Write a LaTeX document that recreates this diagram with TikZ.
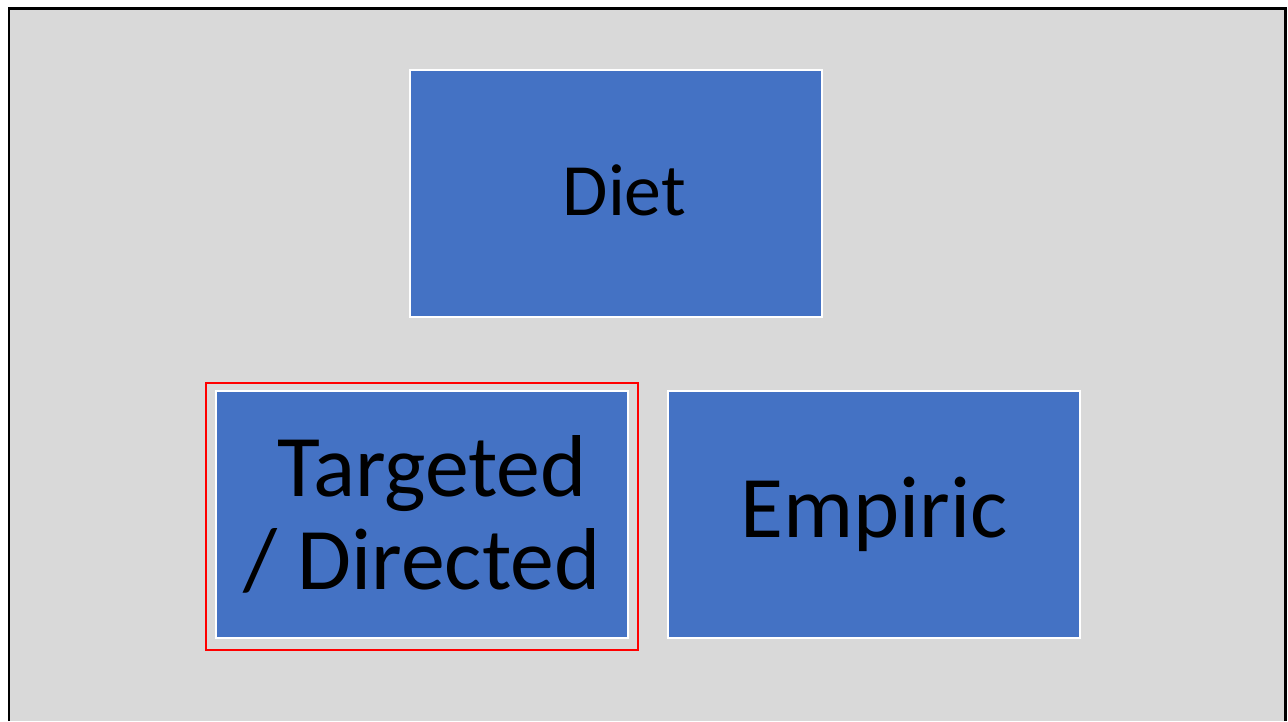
\documentclass[tikz,border=0pt]{standalone}
\usepackage{fontspec}
\setmainfont{Carlito}
\usetikzlibrary{positioning}
\definecolor{slidegray}{HTML}{D9D9D9}
\definecolor{boxblue}{HTML}{4472C4}
\tikzset{
    catbox/.style={draw=white, line width=0.03cm, fill=boxblue, inner sep=0pt,
        minimum width=8.24cm, minimum height=4.94cm, align=center},
}

\begin{document}
\begin{tikzpicture}[x=0.02cm, y=-0.02cm]
        % Slide area
        \useasboundingbox (0, 0) rectangle (1288, 721);
        \fill[white] (0, 0) rectangle (1288, 721);
        \fill[slidegray] (9, 8) rectangle (1285, 721);
        \draw[line width=0.06cm] (9, 721) -- (9, 8) -- (1285, 8) -- (1285, 721);

        % Boxes
        \node[catbox, text depth=0.12cm, font=\fontsize{42}{50}\selectfont] (diet) at (616, 193.5) {\ Diet};
        \node[catbox, font=\fontsize{50}{53}\selectfont] (targeted) at (422, 514.5) {\ Targeted\\/ Directed};
        \node[catbox, font=\fontsize{50}{53}\selectfont] (empiric) at (874, 514.5) {Empiric};

        % Selection frame
        \draw[red, line width=0.025cm] (206, 383) rectangle (638, 650);
\end{tikzpicture}
\end{document}
